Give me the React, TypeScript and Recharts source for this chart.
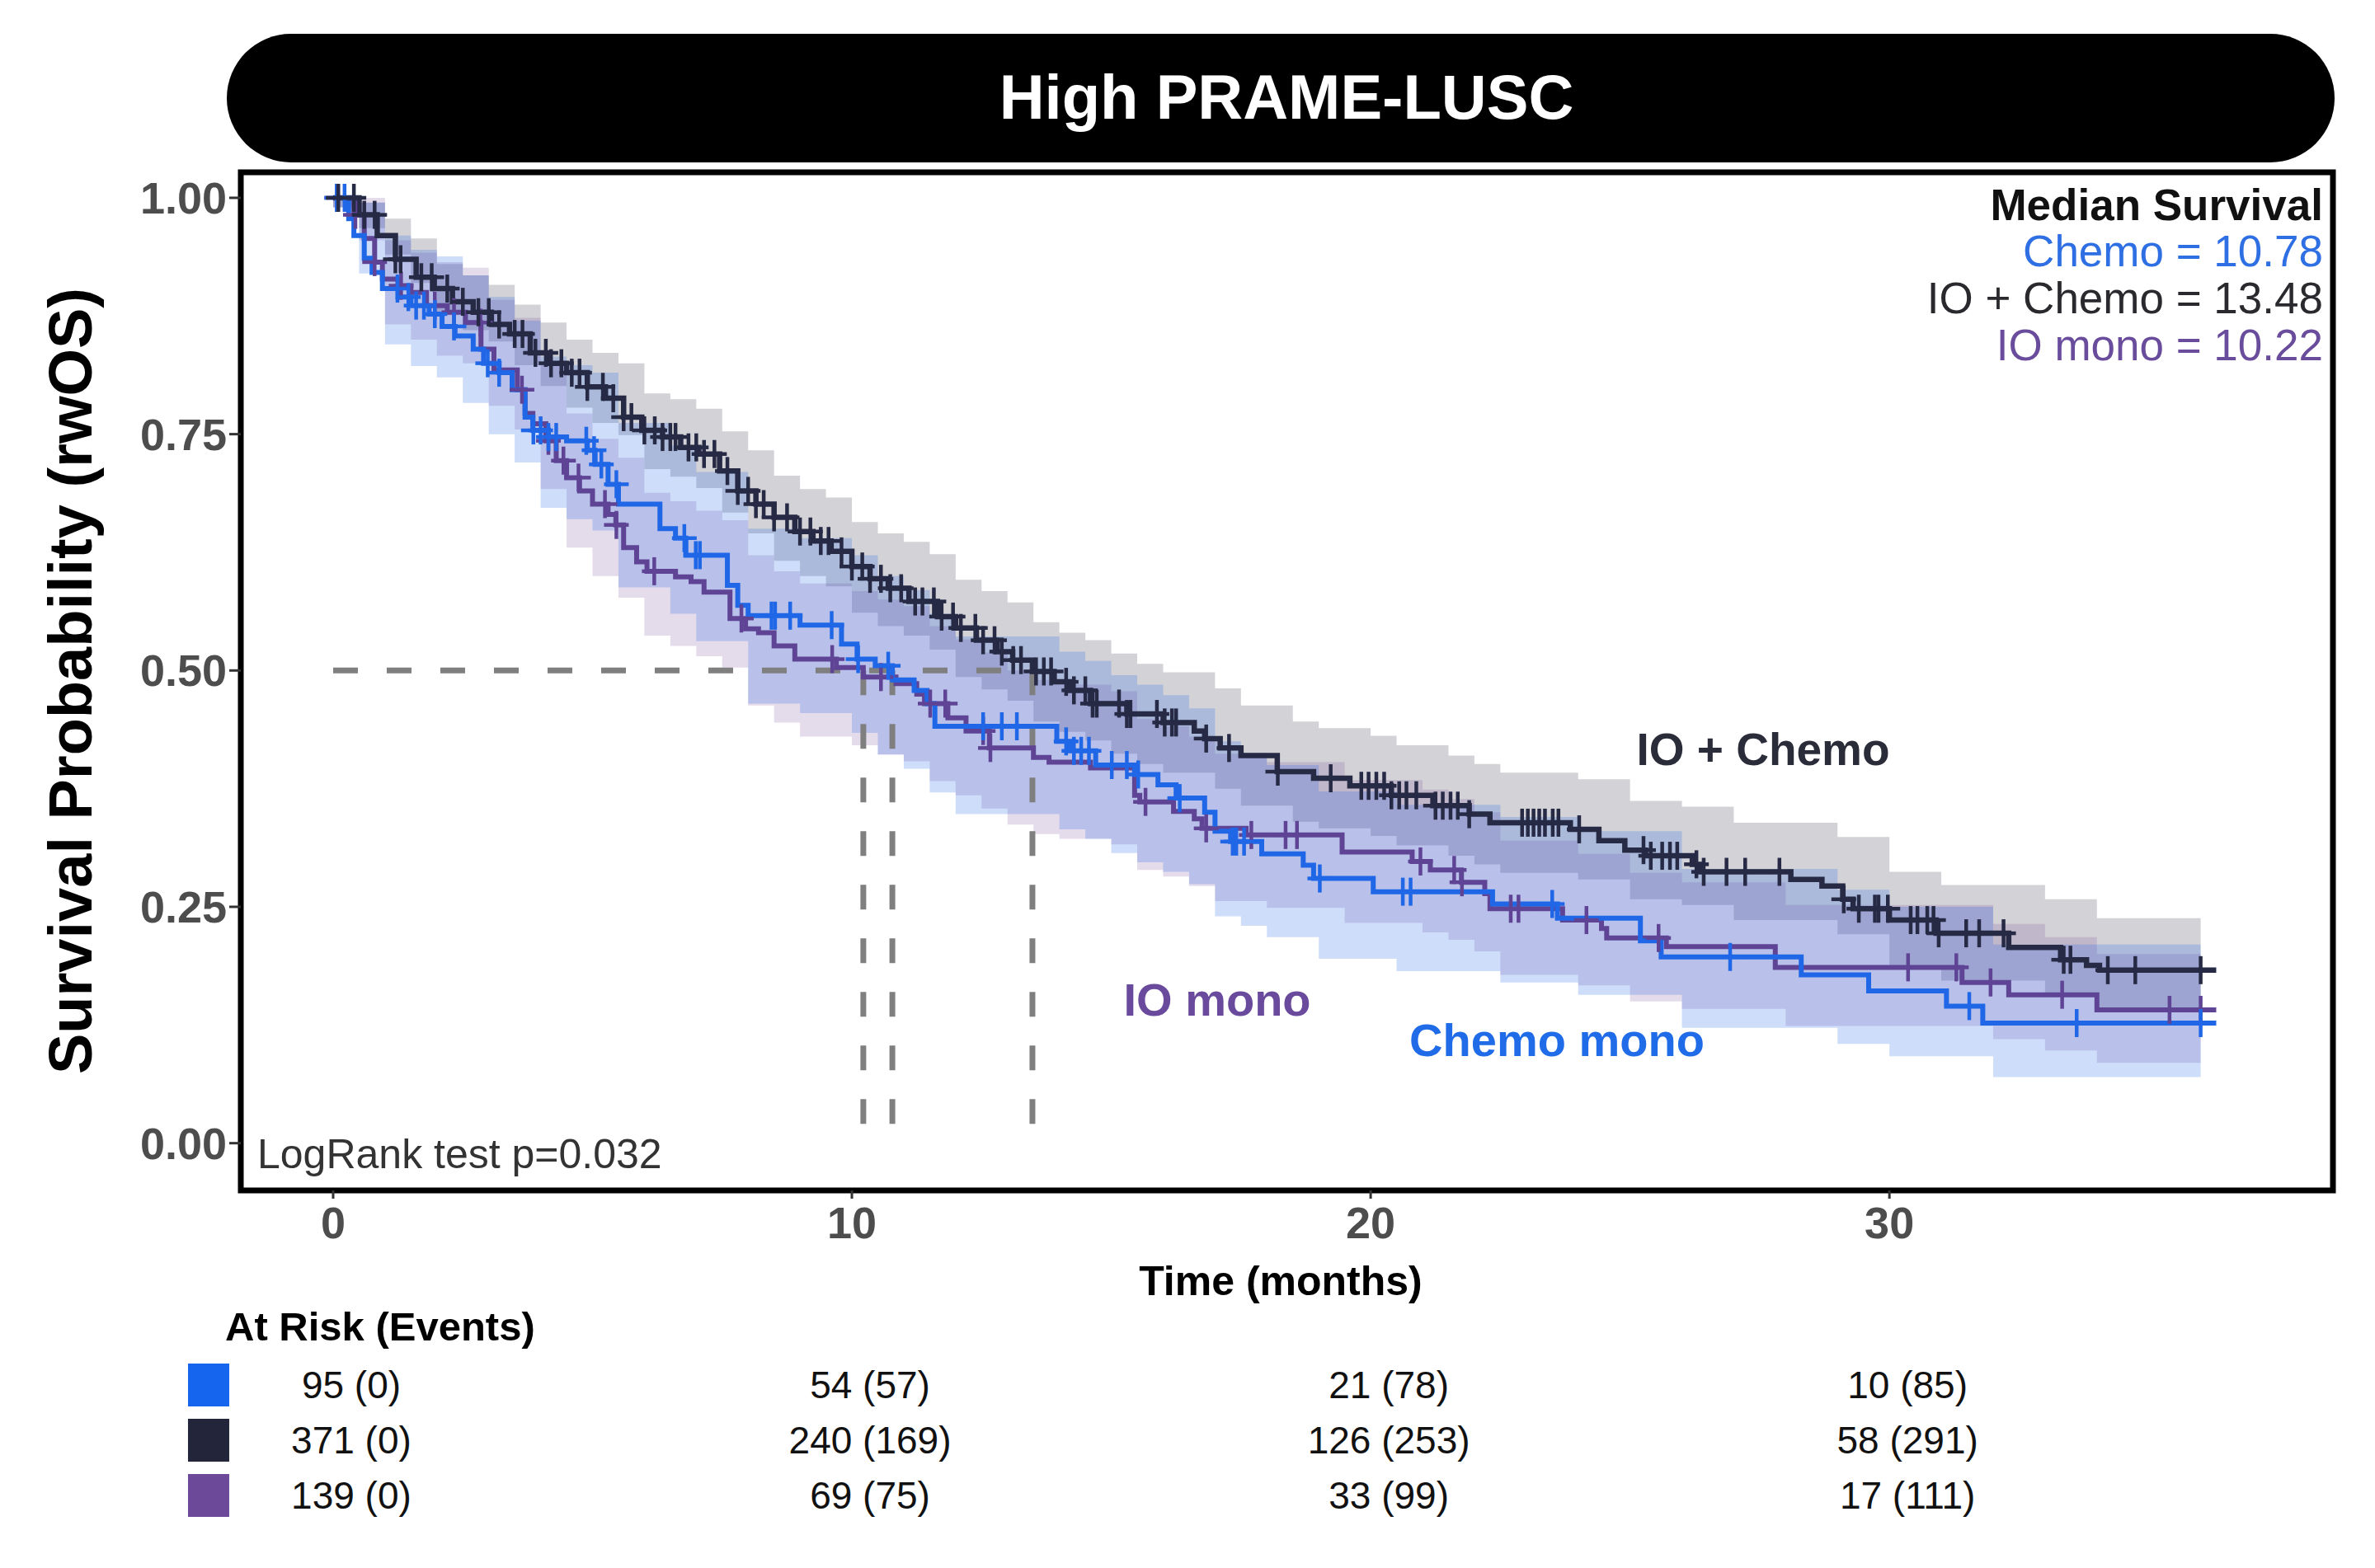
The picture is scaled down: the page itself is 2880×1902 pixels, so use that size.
import React from "react";
import {
  ComposedChart,
  Line,
  Area,
  Scatter,
  XAxis,
  YAxis,
  ReferenceLine,
  ReferenceArea,
} from "recharts";

const FONT = '"Liberation Sans", Arial, Helvetica, sans-serif';

// ---------- Kaplan-Meier step curves (time in months, survival probability) ----------
const ioChemoTime = [0, 0.5, 0.85, 1.2, 1.6, 1.95, 2.3, 2.7, 3.05, 3.4, 3.8, 4.15, 4.5, 4.9, 5.25, 5.6, 5.95, 6.35, 6.7, 7.05, 7.45, 7.8, 8.15, 8.5, 8.9, 9.25, 9.6, 10.0, 10.35, 10.7, 11.1, 11.65, 12.0, 12.4, 12.8, 13.1, 13.48, 13.9, 14.2, 14.6, 15.3, 16.0, 16.6, 16.8, 17.1, 17.5, 18.2, 18.9, 19.6, 20.4, 21.2, 21.9, 22.3, 23.85, 24.4, 24.9, 25.3, 26.2, 26.35, 28.1, 28.7, 29.1, 29.3, 30.0, 30.9, 32.3, 33.3, 33.8, 34.05, 36.3];
const ioChemoSurv = [1, 0.982, 0.96, 0.935, 0.916, 0.904, 0.89, 0.879, 0.866, 0.856, 0.836, 0.825, 0.815, 0.8, 0.788, 0.768, 0.754, 0.747, 0.736, 0.729, 0.711, 0.69, 0.676, 0.662, 0.647, 0.637, 0.626, 0.61, 0.597, 0.587, 0.573, 0.557, 0.545, 0.532, 0.52, 0.511, 0.499, 0.488, 0.479, 0.465, 0.454, 0.445, 0.436, 0.428, 0.418, 0.41, 0.393, 0.386, 0.378, 0.368, 0.357, 0.348, 0.339, 0.332, 0.32, 0.31, 0.304, 0.295, 0.287, 0.279, 0.272, 0.258, 0.248, 0.236, 0.222, 0.207, 0.194, 0.188, 0.183, 0.183];

const chemoTime = [0, 0.3, 0.4, 0.6, 0.75, 0.95, 1.25, 1.5, 1.85, 2.1, 2.35, 2.7, 2.9, 3.2, 3.45, 3.7, 3.85, 4.15, 4.5, 4.9, 5.05, 5.3, 5.5, 6.3, 6.6, 6.8, 7.6, 7.8, 8.0, 9.0, 9.8, 10.1, 10.45, 10.78, 11.2, 11.45, 11.6, 13.95, 14.2, 14.7, 15.45, 15.9, 16.25, 16.8, 17.0, 17.3, 17.9, 18.7, 18.9, 20.05, 22.35, 23.6, 25.2, 25.6, 28.3, 29.6, 31.1, 31.8, 36.3];
const chemoSurv = [1, 0.978, 0.96, 0.936, 0.921, 0.904, 0.895, 0.886, 0.877, 0.864, 0.854, 0.84, 0.825, 0.815, 0.797, 0.768, 0.754, 0.747, 0.743, 0.733, 0.718, 0.697, 0.676, 0.65, 0.64, 0.622, 0.59, 0.569, 0.558, 0.548, 0.528, 0.512, 0.505, 0.49, 0.479, 0.465, 0.441, 0.425, 0.415, 0.4, 0.39, 0.379, 0.365, 0.35, 0.33, 0.319, 0.306, 0.294, 0.28, 0.266, 0.253, 0.238, 0.214, 0.197, 0.178, 0.161, 0.145, 0.127, 0.127];

const ioMonoTime = [0, 0.4, 0.6, 0.8, 0.95, 1.25, 1.5, 1.8, 2.2, 2.55, 2.85, 3.1, 3.55, 3.7, 3.85, 4.1, 4.3, 4.5, 4.75, 5.0, 5.3, 5.45, 5.6, 5.85, 6.05, 6.6, 6.9, 7.15, 7.65, 7.95, 8.2, 8.5, 8.9, 9.7, 10.22, 10.85, 11.25, 11.4, 11.85, 12.2, 12.65, 13.5, 13.8, 14.6, 15.45, 15.55, 16.2, 16.6, 16.75, 17.6, 19.45, 20.8, 21.15, 21.75, 22.2, 22.3, 23.7, 24.45, 24.55, 25.7, 27.8, 31.4, 32.3, 34.0, 36.3];
const ioMonoSurv = [1, 0.982, 0.957, 0.932, 0.914, 0.907, 0.9, 0.886, 0.879, 0.868, 0.84, 0.818, 0.797, 0.772, 0.761, 0.743, 0.722, 0.704, 0.69, 0.676, 0.665, 0.654, 0.63, 0.615, 0.605, 0.599, 0.594, 0.583, 0.555, 0.544, 0.54, 0.526, 0.512, 0.503, 0.493, 0.486, 0.475, 0.465, 0.45, 0.436, 0.418, 0.408, 0.403, 0.397, 0.368, 0.361, 0.351, 0.343, 0.333, 0.326, 0.308, 0.298, 0.289, 0.276, 0.264, 0.248, 0.236, 0.227, 0.217, 0.208, 0.186, 0.17, 0.157, 0.141, 0.141];

// ---------- confidence ribbons (read at knots) ----------
const bandTime = [0, 0.5, 1, 1.5, 2, 2.5, 3, 3.5, 4, 4.5, 5, 5.5, 6, 6.5, 7, 7.5, 8, 8.5, 9, 9.5, 10, 10.5, 11, 11.5, 12, 12.5, 13, 13.5, 14, 14.5, 15, 15.5, 16, 16.5, 17, 17.5, 18, 18.5, 19, 19.5, 20, 20.5, 21, 21.5, 22, 22.5, 23, 23.5, 24, 25, 26, 27, 28, 29, 30, 31, 32, 33, 34, 36];
const ioChemoLo = [0.99, 0.968, 0.94, 0.91, 0.876, 0.86, 0.848, 0.823, 0.801, 0.778, 0.762, 0.749, 0.713, 0.705, 0.693, 0.667, 0.645, 0.616, 0.6, 0.589, 0.561, 0.547, 0.537, 0.522, 0.493, 0.48, 0.468, 0.446, 0.435, 0.426, 0.412, 0.401, 0.392, 0.392, 0.375, 0.357, 0.357, 0.34, 0.333, 0.333, 0.325, 0.315, 0.315, 0.304, 0.295, 0.286, 0.286, 0.286, 0.279, 0.258, 0.252, 0.236, 0.236, 0.221, 0.186, 0.172, 0.172, 0.158, 0.14, 0.14];
const ioChemoHi = [1, 0.995, 0.978, 0.957, 0.93, 0.918, 0.908, 0.887, 0.868, 0.85, 0.836, 0.825, 0.793, 0.787, 0.777, 0.753, 0.733, 0.706, 0.692, 0.683, 0.657, 0.645, 0.636, 0.623, 0.596, 0.584, 0.572, 0.551, 0.54, 0.532, 0.518, 0.507, 0.498, 0.498, 0.481, 0.463, 0.463, 0.446, 0.439, 0.439, 0.431, 0.421, 0.421, 0.41, 0.401, 0.392, 0.392, 0.392, 0.385, 0.362, 0.356, 0.339, 0.339, 0.324, 0.287, 0.273, 0.273, 0.258, 0.238, 0.238];
const chemoLo = [0.99, 0.92, 0.845, 0.822, 0.81, 0.783, 0.75, 0.72, 0.672, 0.66, 0.648, 0.588, 0.588, 0.56, 0.531, 0.531, 0.465, 0.465, 0.455, 0.455, 0.434, 0.411, 0.396, 0.371, 0.348, 0.348, 0.348, 0.348, 0.332, 0.322, 0.307, 0.297, 0.287, 0.274, 0.24, 0.23, 0.218, 0.218, 0.195, 0.195, 0.195, 0.182, 0.182, 0.182, 0.182, 0.17, 0.17, 0.17, 0.157, 0.157, 0.122, 0.122, 0.122, 0.105, 0.092, 0.092, 0.07, 0.07, 0.07, 0.07];
const chemoHi = [1, 0.995, 0.96, 0.945, 0.938, 0.918, 0.895, 0.87, 0.832, 0.823, 0.815, 0.762, 0.762, 0.738, 0.71, 0.71, 0.65, 0.65, 0.64, 0.64, 0.622, 0.6, 0.585, 0.56, 0.536, 0.536, 0.536, 0.536, 0.52, 0.51, 0.495, 0.485, 0.474, 0.46, 0.425, 0.413, 0.4, 0.4, 0.372, 0.372, 0.372, 0.358, 0.358, 0.358, 0.358, 0.345, 0.345, 0.345, 0.33, 0.33, 0.29, 0.29, 0.29, 0.268, 0.25, 0.25, 0.21, 0.21, 0.21, 0.21];
const ioMonoLo = [0.99, 0.955, 0.866, 0.85, 0.833, 0.825, 0.78, 0.755, 0.692, 0.63, 0.6, 0.577, 0.537, 0.526, 0.515, 0.503, 0.463, 0.445, 0.43, 0.43, 0.421, 0.411, 0.404, 0.383, 0.368, 0.354, 0.337, 0.327, 0.322, 0.322, 0.316, 0.289, 0.282, 0.272, 0.256, 0.256, 0.249, 0.249, 0.249, 0.233, 0.233, 0.233, 0.223, 0.215, 0.203, 0.178, 0.178, 0.178, 0.167, 0.15, 0.142, 0.142, 0.124, 0.124, 0.124, 0.124, 0.11, 0.098, 0.085, 0.085];
const ioMonoHi = [1, 1, 0.955, 0.942, 0.932, 0.926, 0.892, 0.873, 0.823, 0.772, 0.745, 0.725, 0.688, 0.679, 0.669, 0.659, 0.622, 0.605, 0.592, 0.592, 0.584, 0.575, 0.568, 0.547, 0.533, 0.519, 0.5, 0.49, 0.485, 0.485, 0.478, 0.449, 0.441, 0.43, 0.412, 0.412, 0.403, 0.403, 0.403, 0.384, 0.384, 0.384, 0.374, 0.364, 0.35, 0.32, 0.32, 0.32, 0.306, 0.286, 0.276, 0.276, 0.252, 0.252, 0.252, 0.252, 0.232, 0.218, 0.2, 0.2];

// ---------- censoring times ----------
const ioChemoCensor = [0.1, 0.4, 0.6, 0.8, 1.2, 1.3, 1.7, 1.9, 2.2, 2.5, 2.8, 3.0, 3.2, 3.5, 3.65, 3.9, 4.1, 4.2, 4.4, 4.6, 4.75, 4.9, 5.2, 5.4, 5.6, 5.75, 6.0, 6.2, 6.35, 6.5, 6.6, 6.85, 7.0, 7.15, 7.35, 7.6, 7.8, 8.0, 8.15, 8.3, 8.5, 8.75, 9.0, 9.2, 9.4, 9.55, 9.8, 10.0, 10.2, 10.35, 10.56, 10.74, 10.95, 11.22, 11.36, 11.58, 11.73, 11.95, 12.1, 12.38, 12.53, 12.75, 12.89, 13.11, 13.26, 13.55, 13.7, 13.84, 14.13, 14.28, 14.5, 14.64, 14.72, 15.15, 15.3, 15.37, 15.88, 16.03, 16.17, 16.25, 16.83, 17.27, 18.21, 19.23, 19.82, 19.96, 20.11, 20.26, 20.4, 20.55, 20.69, 20.88, 21.25, 21.39, 21.54, 21.68, 21.9, 22.92, 23.03, 23.14, 23.25, 23.36, 23.51, 23.62, 24.02, 25.26, 25.4, 25.62, 25.77, 25.91, 26.28, 26.42, 26.86, 27.22, 27.88, 29.12, 29.41, 29.72, 29.79, 29.97, 30.41, 30.54, 30.73, 30.85, 30.95, 31.48, 31.73, 32.2, 33.36, 33.49, 34.21, 34.74, 36.0];
const chemoCensor = [0.07, 0.22, 1.24, 1.45, 1.6, 1.75, 1.96, 2.33, 2.98, 3.2, 3.86, 4.0, 4.15, 4.3, 4.88, 5.03, 5.17, 5.46, 6.77, 6.99, 7.07, 8.45, 8.52, 8.81, 9.61, 10.12, 10.7, 12.53, 12.89, 13.18, 14.13, 14.28, 14.42, 14.57, 15.01, 15.3, 15.52, 16.32, 17.34, 17.41, 17.56, 19.02, 20.62, 20.77, 23.5, 26.93, 31.54, 33.61, 36.0];
const ioMonoCensor = [0.07, 0.43, 0.8, 1.31, 1.96, 2.33, 2.84, 3.64, 4.15, 4.44, 4.73, 5.24, 5.46, 6.19, 7.87, 9.62, 10.56, 11.51, 11.8, 12.53, 12.67, 15.66, 16.83, 17.7, 18.36, 18.58, 20.96, 21.61, 21.76, 22.7, 22.85, 24.16, 25.55, 30.36, 31.29, 31.95, 33.33, 35.4, 36.0];

// ---------- medians ----------
const medianChemo = 10.78;
const medianIoChemo = 13.48;
const medianIoMono = 10.22;

// ---------- axis ticks ----------
const xTicks = [0, 10, 20, 30];
const yTicks = [0, 0.25, 0.5, 0.75, 1];

// ---------- at-risk table ----------
const riskTimes = [0, 10, 20, 30];
const chemoAtRisk = [95, 54, 21, 10];
const chemoEvents = [0, 57, 78, 85];
const ioChemoAtRisk = [371, 240, 126, 58];
const ioChemoEvents = [0, 169, 253, 291];
const ioMonoAtRisk = [139, 69, 33, 17];
const ioMonoEvents = [0, 75, 99, 111];

const COL_CHEMO = "#1f67e6";
const COL_IOCHEMO = "#262a45";
const COL_IOMONO = "#5f4496";

function stepValue(times: number[], vals: number[], t: number): number | null {
  if (t < times[0] - 1e-9 || t > times[times.length - 1] + 1e-9) return null;
  let v = vals[0];
  for (let i = 0; i < times.length; i++) {
    if (times[i] <= t + 1e-9) v = vals[i];
    else break;
  }
  return v;
}

function band(lo: number[], hi: number[], t: number): [number, number] | null {
  const l = stepValue(bandTime, lo, t);
  const h = stepValue(bandTime, hi, t);
  if (l == null || h == null) return null;
  return [l, h];
}

const allTimes = Array.from(
  new Set([...ioChemoTime, ...chemoTime, ...ioMonoTime, ...bandTime])
).sort((a, b) => a - b);

const kmRows = allTimes.map((t) => ({
  t,
  ioChemo: stepValue(ioChemoTime, ioChemoSurv, t),
  chemo: stepValue(chemoTime, chemoSurv, t),
  ioMono: stepValue(ioMonoTime, ioMonoSurv, t),
  ioChemoBand: band(ioChemoLo, ioChemoHi, t),
  chemoBand: band(chemoLo, chemoHi, t),
  ioMonoBand: band(ioMonoLo, ioMonoHi, t),
}));

const censorData = (times: number[], st: number[], sv: number[]) =>
  times.map((t) => ({ t, s: stepValue(st, sv, t) }));

const ioChemoMarks = censorData(ioChemoCensor, ioChemoTime, ioChemoSurv);
const chemoMarks = censorData(chemoCensor, chemoTime, chemoSurv);
const ioMonoMarks = censorData(ioMonoCensor, ioMonoTime, ioMonoSurv);

const riskRow = (atRisk: number[], events: number[], row: number) =>
  riskTimes.map((t, i) => ({ t, row, label: `${atRisk[i]} (${events[i]})` }));

const chemoRisk = riskRow(chemoAtRisk, chemoEvents, 1);
const ioChemoRisk = riskRow(ioChemoAtRisk, ioChemoEvents, 2);
const ioMonoRisk = riskRow(ioMonoAtRisk, ioMonoEvents, 3);

const X_DOMAIN: [number, number] = [-1.78, 38.55];
const Y_DOMAIN: [number, number] = [-0.05, 1.027];

const makeCross = (color: string) => (props: any) => {
  const { cx, cy } = props;
  if (cx == null || cy == null) return <g />;
  return (
    <g stroke={color} strokeWidth={4.5}>
      <line x1={cx - 15} x2={cx + 15} y1={cy} y2={cy} />
      <line x1={cx} x2={cx} y1={cy - 17} y2={cy + 17} />
    </g>
  );
};

const makeRiskCell = (color: string) => (props: any) => {
  const { cx, cy, payload } = props;
  return (
    <g>
      {payload.t === 0 ? (
        <rect x={cx - 198} y={cy - 26} width={50} height={52} fill={color} />
      ) : null}
      <text
        x={cx}
        y={cy + 16}
        textAnchor="middle"
        fontSize={46}
        fontFamily={FONT}
        fill="#111"
      >
        {payload.label}
      </text>
    </g>
  );
};

const tickStyle = {
  fill: "#4d4d4d",
  fontSize: 54,
  fontWeight: 700,
  fontFamily: FONT,
};

export default function App() {
  const dash = { stroke: "#7f7f7f", strokeWidth: 7, strokeDasharray: "30 35" };
  return (
    <div
      style={{
        position: "relative",
        width: 2880,
        height: 1902,
        background: "#fff",
        overflow: "hidden",
        fontFamily: FONT,
      }}
    >
      <style>{`body{margin:0;background:#fff}`}</style>

      <div style={{ position: "absolute", left: 0, top: 0 }}>
        <ComposedChart
          width={2880}
          height={1594}
          data={kmRows}
          margin={{ top: 209, right: 51, bottom: 0, left: 142 }}
        >
          <XAxis
            dataKey="t"
            type="number"
            domain={X_DOMAIN}
            allowDataOverflow
            ticks={xTicks}
            height={150}
            axisLine={false}
            tickLine={{ stroke: "#333", strokeWidth: 3 }}
            tickSize={10}
            tickMargin={10}
            tick={tickStyle}
          />
          <YAxis
            type="number"
            domain={Y_DOMAIN}
            allowDataOverflow
            ticks={yTicks}
            width={150}
            axisLine={false}
            tickLine={{ stroke: "#333", strokeWidth: 3 }}
            tickSize={14}
            tickMargin={3}
            tick={tickStyle}
            tickFormatter={(v: number) => v.toFixed(2)}
          />

          <Area
            type="stepAfter"
            dataKey="ioChemoBand"
            stroke="none"
            fill="#7d7d8c"
            fillOpacity={0.35}
            isAnimationActive={false}
            activeDot={false}
          />
          <Area
            type="stepAfter"
            dataKey="ioMonoBand"
            stroke="none"
            fill="#7a4a9a"
            fillOpacity={0.2}
            isAnimationActive={false}
            activeDot={false}
          />
          <Area
            type="stepAfter"
            dataKey="chemoBand"
            stroke="none"
            fill="#1e66e6"
            fillOpacity={0.22}
            isAnimationActive={false}
            activeDot={false}
          />

          <ReferenceLine
            segment={[{ x: 0, y: 0.5 }, { x: medianIoChemo, y: 0.5 }]}
            {...dash}
            ifOverflow="visible"
          />
          <ReferenceLine
            segment={[{ x: medianIoMono, y: 0.5 }, { x: medianIoMono, y: 0 }]}
            {...dash}
            ifOverflow="visible"
          />
          <ReferenceLine
            segment={[{ x: medianChemo, y: 0.5 }, { x: medianChemo, y: 0 }]}
            {...dash}
            ifOverflow="visible"
          />
          <ReferenceLine
            segment={[{ x: medianIoChemo, y: 0.5 }, { x: medianIoChemo, y: 0 }]}
            {...dash}
            ifOverflow="visible"
          />

          <Line
            type="stepAfter"
            dataKey="ioMono"
            stroke={COL_IOMONO}
            strokeWidth={6}
            dot={false}
            activeDot={false}
            isAnimationActive={false}
          />
          <Line
            type="stepAfter"
            dataKey="chemo"
            stroke={COL_CHEMO}
            strokeWidth={6}
            dot={false}
            activeDot={false}
            isAnimationActive={false}
          />
          <Line
            type="stepAfter"
            dataKey="ioChemo"
            stroke={COL_IOCHEMO}
            strokeWidth={6.5}
            dot={false}
            activeDot={false}
            isAnimationActive={false}
          />

          <Scatter
            data={ioMonoMarks}
            dataKey="s"
            shape={makeCross(COL_IOMONO)}
            isAnimationActive={false}
          />
          <Scatter
            data={chemoMarks}
            dataKey="s"
            shape={makeCross(COL_CHEMO)}
            isAnimationActive={false}
          />
          <Scatter
            data={ioChemoMarks}
            dataKey="s"
            shape={makeCross(COL_IOCHEMO)}
            isAnimationActive={false}
          />

          <ReferenceArea
            x1={X_DOMAIN[0]}
            x2={X_DOMAIN[1]}
            y1={Y_DOMAIN[0]}
            y2={Y_DOMAIN[1]}
            fill="none"
            fillOpacity={0}
            stroke="#000"
            strokeWidth={7}
            ifOverflow="visible"
          />
        </ComposedChart>
      </div>

      <div style={{ position: "absolute", left: 0, top: 1600 }}>
        <ComposedChart
          width={2880}
          height={281}
          margin={{ top: 13, right: 29, bottom: 0, left: 314 }}
        >
          <XAxis dataKey="t" type="number" domain={X_DOMAIN} hide />
          <YAxis type="number" domain={[0, 4]} reversed hide />
          <Scatter
            data={chemoRisk}
            dataKey="row"
            shape={makeRiskCell("#1565ee")}
            isAnimationActive={false}
          />
          <Scatter
            data={ioChemoRisk}
            dataKey="row"
            shape={makeRiskCell("#23253a")}
            isAnimationActive={false}
          />
          <Scatter
            data={ioMonoRisk}
            dataKey="row"
            shape={makeRiskCell("#6c4a99")}
            isAnimationActive={false}
          />
        </ComposedChart>
      </div>

      <svg
        width={2880}
        height={1902}
        style={{ position: "absolute", left: 0, top: 0, pointerEvents: "none" }}
        fontFamily={FONT}
      >
        <rect x={275} y={41} width={2556} height={156} rx={78} ry={78} fill="#000" />
        <text x={1560} y={144} textAnchor="middle" fill="#fff" fontWeight={700} fontSize={76}>
          High PRAME-LUSC
        </text>

        <text
          transform="translate(85,826) rotate(-90)"
          textAnchor="middle"
          dominantBaseline="central"
          fontWeight={700}
          fontSize={74}
          fill="#000"
        >
          Survival Probability (rwOS)
        </text>

        <text x={1553} y={1571} textAnchor="middle" fontWeight={700} fontSize={50} fill="#000">
          Time (months)
        </text>

        <text x={2817} y={267} textAnchor="end" fontWeight={700} fontSize={53} fill="#111">
          Median Survival
        </text>
        <text x={2817} y={323} textAnchor="end" fontSize={53} fill="#2e6fe3">
          Chemo = 10.78
        </text>
        <text x={2817} y={380} textAnchor="end" fontSize={53} fill="#2a2a2e">
          IO + Chemo = 13.48
        </text>
        <text x={2817} y={437} textAnchor="end" fontSize={53} fill="#6a4c9c">
          IO mono = 10.22
        </text>

        <text x={312} y={1417} fontSize={50} fill="#333">
          LogRank test p=0.032
        </text>

        <text x={2138} y={928} textAnchor="middle" fontWeight={700} fontSize={55} fill="#2b2c3a">
          IO + Chemo
        </text>
        <text x={1476} y={1232} textAnchor="middle" fontWeight={700} fontSize={56} fill="#6a4a9c">
          IO mono
        </text>
        <text x={1888} y={1281} textAnchor="middle" fontWeight={700} fontSize={56} fill="#1f6be8">
          Chemo mono
        </text>

        <text x={273} y={1626} fontWeight={700} fontSize={49} fill="#000">
          At Risk (Events)
        </text>
      </svg>
    </div>
  );
}
